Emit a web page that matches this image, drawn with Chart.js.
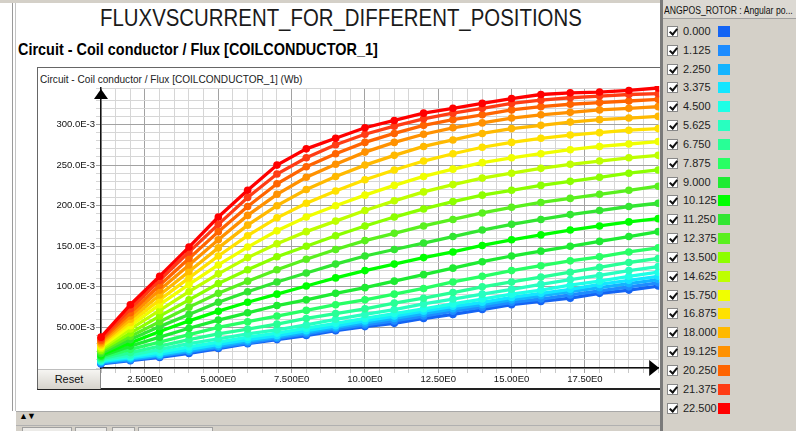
<!DOCTYPE html>
<html>
<head>
<meta charset="utf-8">
<script src="https://cdn.jsdelivr.net/npm/chart.js@4.4.1/dist/chart.umd.min.js"></script>
<style>
html,body{margin:0;padding:0;width:796px;height:431px;overflow:hidden;background:#fff;font-family:"Liberation Sans",Arial,sans-serif;}
.abs{position:absolute;}
.fit{white-space:nowrap;transform-origin:0 0;}
#topband{left:0;top:0;width:660px;height:3px;background:#d4d0c8;}
#lb1{left:12px;top:3px;width:1px;height:408px;background:#9a9a9a;}
#lb2{left:15px;top:3px;width:1px;height:408px;background:#c4c4c4;}
#title{left:100px;top:4px;font-size:24px;color:#1a1a1a;}
#sub{left:18px;top:40px;font-size:17px;font-weight:bold;color:#000;}
#panel{left:37px;top:67px;width:624px;height:323px;border-top:1px solid #666;border-left:1px solid #666;border-bottom:2px solid #222;box-sizing:border-box;}
#unit{left:40px;top:73px;font-size:11px;color:#222;}
#chartbox{left:38px;top:68px;width:624px;height:321px;}
#reset{left:38px;top:369px;width:63px;height:20px;background:linear-gradient(#f6f5f2,#d6d3cc);border-right:1px solid #8a8a8a;border-top:1px solid #bdbdbd;box-sizing:border-box;font-size:11px;text-align:center;line-height:19px;color:#111;}
#bottom{left:16px;top:411px;width:644px;height:20px;background:#d4d0c8;border-top:1px solid #a8a8a8;box-sizing:border-box;}
#arrows{left:19px;top:411px;font-size:9px;color:#000;letter-spacing:-1px;}
#tabline{left:16px;top:425px;width:644px;height:1px;background:#b0b0b0;}
.tab{position:absolute;top:427px;height:6px;background:#ecebe8;border:1px solid #a0a0a0;box-sizing:border-box;}
#side{left:660px;top:0;width:136px;height:431px;background:#d4d0c8;border-left:3px solid #7a7a7a;box-sizing:border-box;}
#sidehead{left:663px;top:0;width:133px;height:19px;background:#dcd9d3;border-bottom:1px solid #a0a0a0;box-sizing:border-box;}
#head{left:664px;top:4px;font-size:11px;color:#111;}
.cb{position:absolute;left:667px;width:11px;height:11px;background:#fff;border:1px solid #888;box-sizing:border-box;}
.cb::after{content:"";position:absolute;left:3px;top:0px;width:3px;height:6px;border:solid #111;border-width:0 2px 2px 0;transform:rotate(40deg);}
.lt{position:absolute;left:683px;font-size:11px;color:#222;white-space:nowrap;}
.sw{position:absolute;left:718px;width:12px;height:11px;}
</style>
</head>
<body>
<div id="topband" class="abs"></div>
<div id="lb1" class="abs"></div>
<div id="lb2" class="abs"></div>
<div id="title" class="abs fit" data-w="482">FLUXVSCURRENT_FOR_DIFFERENT_POSITIONS</div>
<div id="sub" class="abs fit" data-w="360">Circuit - Coil conductor / Flux [COILCONDUCTOR_1]</div>
<div id="panel" class="abs"></div>
<div id="unit" class="abs fit" data-w="262">Circuit - Coil conductor / Flux [COILCONDUCTOR_1] (Wb)</div>
<div id="chartbox" class="abs"><canvas id="c" width="624" height="321"></canvas></div>
<div id="reset" class="abs">Reset</div>
<div id="bottom" class="abs"></div>
<div id="arrows" class="abs">▲▼</div>
<div id="tabline" class="abs"></div>
<div class="tab" style="left:22px;width:50px"></div>
<div class="tab" style="left:75px;width:32px"></div>
<div class="tab" style="left:112px;width:23px"></div>
<div class="tab" style="left:138px;width:75px"></div>
<div id="side" class="abs"></div>
<div id="sidehead" class="abs"></div>
<div id="head" class="abs fit" data-w="129">ANGPOS_ROTOR : Angular po...</div>
<div id="legend"></div>
<script>
// Coil current (A) at each computed point
const currents = [1, 2, 3, 4, 5, 6, 7, 8, 9, 10, 11, 12, 13, 14, 15, 16, 17, 18, 19, 20];

// Rotor angular positions (deg) and their curve colours
const positions = ['0.000', '1.125', '2.250', '3.375', '4.500', '5.625', '6.750', '7.875', '9.000', '10.125',
  '11.250', '12.375', '13.500', '14.625', '15.750', '16.875', '18.000', '19.125', '20.250', '21.375', '22.500'];
const colors = ['#1464f4', '#1e8cff', '#14b4ff', '#14e6ff', '#1effe6', '#28ffc0', '#28ff96', '#28ff64', '#1eeb32', '#00ff00',
  '#32e632', '#5af01e', '#8cff00', '#beff00', '#f0ff00', '#ffe100', '#ffb900', '#ff9100', '#ff6400', '#ff3c14', '#ff0000'];

// Coil conductor flux (mWb) per rotor position
const flux_0_000  = [5, 9, 13, 18, 24, 30, 35, 40, 46, 51, 55, 61, 66, 72, 78, 82, 86, 92, 96, 101];
const flux_1_125  = [6, 10, 14.5, 20, 25.5, 31, 36.5, 42, 48, 53, 58, 64, 70, 75, 81, 85, 90, 95, 100, 105];
const flux_2_250  = [7, 11, 15.5, 21, 27, 33, 38, 44, 50, 55.5, 61, 67, 73, 78, 84, 89, 94, 99, 104, 109];
const flux_3_375  = [8, 12.5, 17, 23, 29, 35, 40, 46, 52, 58, 64, 70, 76, 81, 87, 92, 97, 103, 108, 113];
const flux_4_500  = [9, 14, 19.5, 26, 32, 38, 43, 49, 55, 61, 67, 73, 79, 85, 91, 96, 102, 107, 113, 118];
const flux_5_625  = [10, 16, 23, 30, 36, 42, 47, 53, 60, 66, 72, 79, 85, 91, 97, 103, 109, 114, 120, 125];
const flux_6_750  = [11.5, 19, 27, 35, 42, 48, 54, 61, 67, 73, 80, 86, 93, 100, 106, 112, 118, 124, 130, 135];
const flux_7_875  = [13, 23, 32, 41, 50, 57, 64, 71, 78, 84, 91, 98, 106, 113, 120, 126, 132, 137, 143, 148];
const flux_9_000  = [14.5, 27, 38, 49, 59, 68, 77, 84, 92, 99, 107, 115, 123, 131, 138, 144, 150, 156, 162, 168];
const flux_10_125 = [16, 31, 45, 58, 70, 81, 91, 101, 111, 120, 128, 136, 143, 151, 158, 164, 170, 175, 180, 184];
const flux_11_250 = [18, 35, 51, 66, 81, 94, 106, 117, 128, 138, 146, 154, 162, 170, 177, 183, 189, 194, 199, 203];
const flux_12_375 = [20, 39, 57, 75, 92, 107, 121, 134, 146, 157, 166, 175, 183, 191, 198, 204, 209, 214, 219, 224];
const flux_13_500 = [22, 43, 64, 84, 104, 121, 137, 150, 163, 175, 186, 196, 205, 213, 219, 225, 230, 235, 240, 244];
const flux_14_625 = [24, 48, 71, 94, 116, 136, 153, 168, 181, 194, 206, 217, 226, 234, 240, 246, 251, 255, 259, 262];
const flux_15_750 = [26, 52, 78, 103, 127, 149, 169, 186, 200, 213, 225, 236, 245, 253, 259, 264, 269, 273, 276, 279];
const flux_16_875 = [28, 56, 84, 111, 138, 163, 185, 203, 218, 232, 244, 255, 264, 272, 278, 283, 287, 290, 293, 295];
const flux_18_000 = [30, 60, 90, 119, 148, 176, 200, 220, 236, 250, 262, 273, 281, 289, 295, 299, 303, 306, 308, 310];
const flux_19_125 = [32, 64, 96, 127, 158, 188, 214, 235, 251, 266, 278, 288, 296, 302, 308, 312, 315, 318, 320, 322];
const flux_20_250 = [34, 68, 102, 135, 168, 199, 227, 248, 264, 278, 289, 299, 306, 312, 318, 322, 325, 327, 329, 331];
const flux_21_375 = [36, 73, 108, 143, 177, 210, 239, 259, 275, 288, 298, 307, 314, 320, 326, 330, 333, 335, 337, 338];
const flux_22_500 = [38, 78, 113, 149, 186, 219, 250, 270, 283, 296, 305, 314, 320, 326, 332, 337, 339, 340, 342, 345];

const fluxSeries = [flux_0_000, flux_1_125, flux_2_250, flux_3_375, flux_4_500, flux_5_625, flux_6_750, flux_7_875,
  flux_9_000, flux_10_125, flux_11_250, flux_12_375, flux_13_500, flux_14_625, flux_15_750, flux_16_875,
  flux_18_000, flux_19_125, flux_20_250, flux_21_375, flux_22_500];

// Axis tick labels
const xLabelValues = [2.5, 5, 7.5, 10, 12.5, 15, 17.5];
const xLabels = ['2.500E0', '5.000E0', '7.500E0', '10.00E0', '12.50E0', '15.00E0', '17.50E0'];
const yLabelValues = [50, 100, 150, 200, 250, 300];
const yLabels = ['50.00E-3', '100.0E-3', '150.0E-3', '200.0E-3', '250.0E-3', '300.0E-3'];

// squeeze wide captions into their boxes
document.querySelectorAll('.fit').forEach(el => {
  const w = +el.dataset.w;
  const s = w / el.scrollWidth;
  el.style.transform = 'scaleX(' + s + ')';
});

// position list on the right
const legend = document.getElementById('legend');
positions.forEach((p, k) => {
  const cy = 32 + k * 18.83;
  const cb = document.createElement('div'); cb.className = 'cb'; cb.style.top = (cy - 6) + 'px';
  const t = document.createElement('div'); t.className = 'lt'; t.style.top = (cy - 7) + 'px'; t.textContent = p;
  const sw = document.createElement('div'); sw.className = 'sw'; sw.style.top = (cy - 6) + 'px'; sw.style.background = colors[k];
  legend.appendChild(cb); legend.appendChild(t); legend.appendChild(sw);
});

const near = (v, list) => list.findIndex(a => Math.abs(a - v) < 1e-6);
const isMajorX = v => near(v, xLabelValues) >= 0;
const isMajorY = v => near(v, yLabelValues) >= 0;

const axisArrows = {
  id: 'axisArrows',
  afterDraw(chart) {
    const { ctx, chartArea: a } = chart;
    ctx.save();
    ctx.fillStyle = '#000';
    ctx.beginPath();
    ctx.moveTo(a.left - 7, a.top + 11);
    ctx.lineTo(a.left + 7, a.top + 11);
    ctx.lineTo(a.left, a.top + 1);
    ctx.closePath();
    ctx.fill();
    ctx.beginPath();
    ctx.moveTo(a.right - 9, a.bottom - 8);
    ctx.lineTo(a.right - 9, a.bottom + 8);
    ctx.lineTo(a.right + 1, a.bottom);
    ctx.closePath();
    ctx.fill();
    ctx.restore();
  }
};

const datasets = fluxSeries.map((vals, k) => ({
  label: positions[k],
  data: currents.map((x, i) => ({ x: x, y: vals[i] })),
  borderColor: colors[k],
  backgroundColor: colors[k],
  borderWidth: 3.3,
  pointRadius: 3.8,
  pointBorderWidth: 0,
  pointHoverRadius: 3.8,
  order: fluxSeries.length - 1 - k,
  clip: { left: 5, top: 2, right: 1, bottom: 5 },
  tension: 0
}));

const tickFont = { family: '"Liberation Sans Narrow","Liberation Sans",Arial,sans-serif', size: 9.5 };

new Chart(document.getElementById('c'), {
  type: 'line',
  data: { datasets: datasets },
  plugins: [axisArrows],
  options: {
    responsive: false,
    animation: false,
    devicePixelRatio: 1,
    layout: { padding: { top: 20, right: 2, left: 0, bottom: 0 } },
    plugins: { legend: { display: false }, tooltip: { enabled: false } },
    scales: {
      x: {
        type: 'linear', min: 1, max: 20,
        afterFit: s => { s.height = 21; },
        ticks: {
          stepSize: 0.5, autoSkip: false, maxRotation: 0, padding: 1,
          color: '#111', font: tickFont,
          callback: v => { const i = near(v, xLabelValues); return i >= 0 ? xLabels[i] : ''; }
        },
        grid: {
          color: c => isMajorX(c.tick.value) ? '#a2a2a2' : '#d6d6d6',
          tickColor: c => isMajorX(c.tick.value) ? '#a2a2a2' : '#c8c8c8',
          tickLength: 5, lineWidth: 1
        },
        border: { color: '#111', width: 1.5 }
      },
      y: {
        type: 'linear', min: 0, max: 345,
        afterFit: s => { s.width = 63; },
        ticks: {
          stepSize: 10, autoSkip: false, padding: 1,
          color: '#111', font: tickFont,
          callback: v => { const i = near(v, yLabelValues); return i >= 0 ? yLabels[i] : ''; }
        },
        grid: {
          color: c => isMajorY(c.tick.value) ? '#a2a2a2' : '#d6d6d6',
          tickColor: c => isMajorY(c.tick.value) ? '#a2a2a2' : '#d6d6d6',
          tickLength: 5, lineWidth: 1
        },
        border: { color: '#111', width: 1.5 }
      }
    }
  }
});
</script>
</body>
</html>
